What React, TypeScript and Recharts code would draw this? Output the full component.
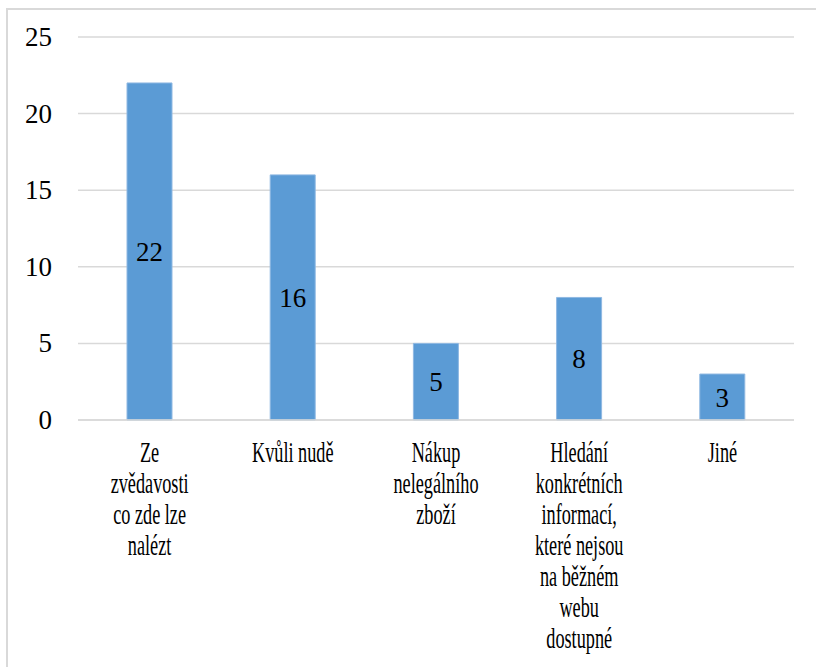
import { BarChart, Bar, XAxis, YAxis, CartesianGrid, LabelList } from 'recharts'

// Categories (line breaks as in the original chart) and counts
const categories = [
    ['Ze', 'zvědavosti', 'co zde lze', 'nalézt'],
    ['Kvůli nudě'],
    ['Nákup', 'nelegálního', 'zboží'],
    ['Hledání', 'konkrétních', 'informací,', 'které nejsou', 'na běžném', 'webu', 'dostupné'],
    ['Jiné'],
]
const counts = [22, 16, 5, 8, 3]
const yTicks = [0, 5, 10, 15, 20, 25]

const data = categories.map((lines, i) => ({
    name: lines.join(' '),
    lines,
    count: counts[i],
}))

const FONT = '"Liberation Serif", "DejaVu Serif", serif'

function CategoryTick(props: any) {
    const { x, y, index } = props
    const lines: string[] = categories[index] || []
    return (
        <g transform={`translate(${x},${y}) scale(0.64,1)`}>
            {lines.map((line, i) => (
                <text
                    key={i}
                    x={0}
                    y={42 + i * 31}
                    textAnchor="middle"
                    fontFamily={FONT}
                    fontSize={28.5}
                    fill="#000"
                >
                    {line}
                </text>
            ))}
        </g>
    )
}

function ValueTick(props: any) {
    const { x, y, payload } = props
    return (
        <text x={x} y={y} dy={9} textAnchor="end" fontFamily={FONT} fontSize={27} fill="#000">
            {payload.value}
        </text>
    )
}

export default function App() {
    return (
        <div style={{ position: 'absolute', left: 0, top: 0, width: 816, height: 667, overflow: 'hidden', background: '#fff' }}>
            <div
                style={{
                    position: 'absolute',
                    left: 6,
                    top: 8,
                    width: 840,
                    height: 700,
                    border: '2px solid #d9d9d9',
                }}
            />
            <div style={{ position: 'absolute', left: 0, top: 0 }}>
                <BarChart
                    width={816}
                    height={667}
                    data={data}
                    margin={{ top: 37, right: 22, left: 18, bottom: 0 }}
                    barCategoryGap={49}
                >
                    <CartesianGrid vertical={false} stroke="#d9d9d9" strokeWidth={1.5} />
                    <XAxis
                        dataKey="name"
                        height={247}
                        interval={0}
                        tickLine={false}
                        axisLine={{ stroke: '#d9d9d9', strokeWidth: 1.5 }}
                        tickSize={0}
                        tickMargin={0}
                        tick={<CategoryTick />}
                    />
                    <YAxis
                        width={60}
                        domain={[0, 25]}
                        ticks={yTicks}
                        tickLine={false}
                        axisLine={false}
                        tickSize={0}
                        tickMargin={26}
                        tick={<ValueTick />}
                    />
                    <Bar dataKey="count" fill="#5b9bd5" stroke="#8fb8e2" strokeWidth={1} isAnimationActive={false}>
                        <LabelList
                            dataKey="count"
                            position="center"
                            fill="#000"
                            fontFamily={FONT}
                            fontSize={27}
                        />
                    </Bar>
                </BarChart>
            </div>
        </div>
    )
}
